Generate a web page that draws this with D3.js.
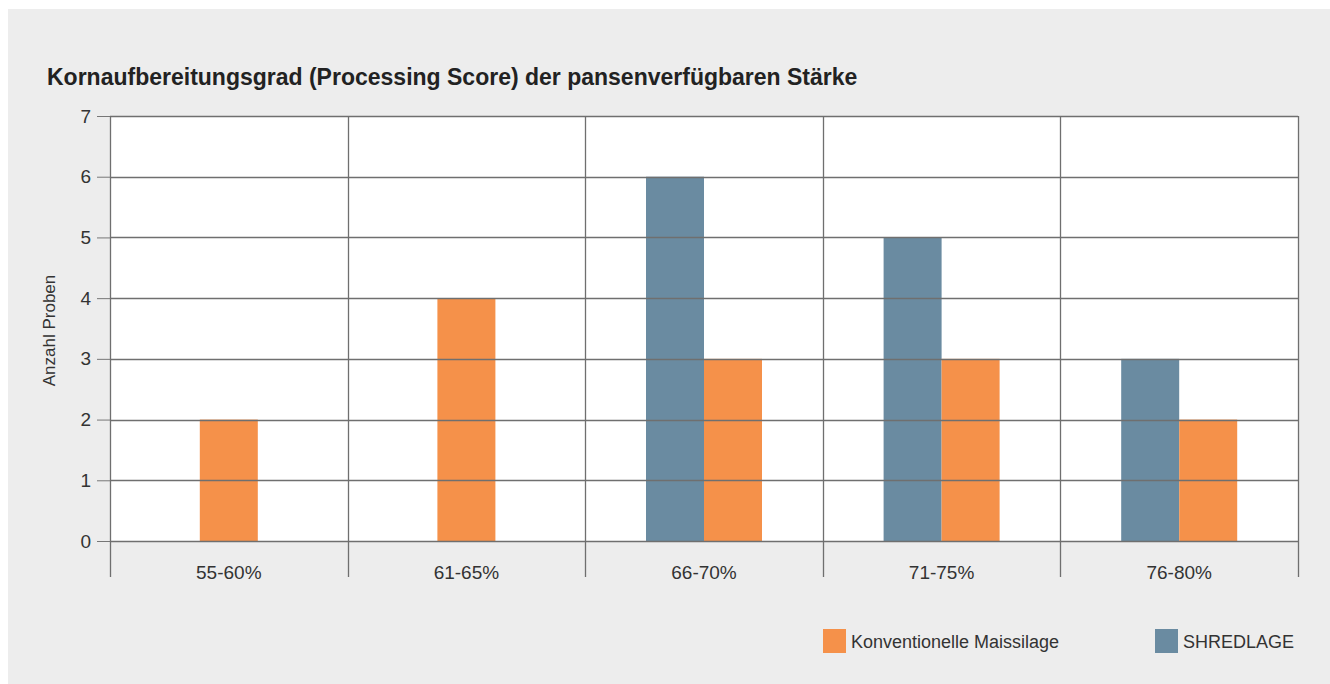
<!DOCTYPE html>
<html>
<head>
<meta charset="utf-8">
<script src="https://cdnjs.cloudflare.com/ajax/libs/d3/7.8.5/d3.min.js"></script>
<style>
	body { margin: 0; background: #fff; }
	svg { display: block; font-family: "Liberation Sans", Arial, sans-serif; }
</style>
</head>
<body>
<svg id="chart" width="1330" height="684"></svg>
<script>
// data
var categories = ['55-60%', '61-65%', '66-70%', '71-75%', '76-80%'];
var shredlage = [0, 0, 6, 5, 3];
var konventionell = [2, 4, 3, 3, 2];
var yTicks = [0, 1, 2, 3, 4, 5, 6, 7];
var seriesNames = ['Konventionelle Maissilage', 'SHREDLAGE'];
var seriesColors = ['#f5914a', '#6a8ba1'];

var svg = d3.select('#chart');
var margin = { left: 110, top: 116, right: 32, bottom: 143 };
var width = 1330 - margin.left - margin.right;
var height = 684 - margin.top - margin.bottom;
var barW = 58;

svg.append('rect')
	.attr('x', 8).attr('y', 9)
	.attr('width', 1322).attr('height', 675)
	.attr('fill', '#ededed');

svg.append('text')
	.attr('x', 47).attr('y', 85)
	.attr('font-size', 23)
	.attr('font-weight', 'bold')
	.attr('fill', '#222')
	.text('Kornaufbereitungsgrad (Processing Score) der pansenverfügbaren Stärke');

var g = svg.append('g')
	.attr('transform', 'translate(' + margin.left + ',' + margin.top + ')');

var x = d3.scaleBand().domain(categories).range([0, width]);
var y = d3.scaleLinear().domain([0, 7]).range([height, 0]);

g.append('rect')
	.attr('width', width).attr('height', height)
	.attr('fill', '#fff');

// bars: pair side by side, a single series sits centred
var rows = categories.map(function(c, i) {
	return { cat: c, k: konventionell[i], s: shredlage[i] };
});
rows.forEach(function(r) {
	var cx = x(r.cat) + x.bandwidth() / 2;
	var bars = [];
	if (r.s > 0 && r.k > 0) {
		bars.push({ v: r.s, x0: cx - barW, c: seriesColors[1] });
		bars.push({ v: r.k, x0: cx, c: seriesColors[0] });
	} else if (r.k > 0) {
		bars.push({ v: r.k, x0: cx - barW / 2, c: seriesColors[0] });
	} else if (r.s > 0) {
		bars.push({ v: r.s, x0: cx - barW / 2, c: seriesColors[1] });
	}
	g.selectAll(null)
		.data(bars)
		.enter().append('rect')
			.attr('x', function(d) { return d.x0; })
			.attr('y', function(d) { return y(d.v); })
			.attr('width', barW)
			.attr('height', function(d) { return y(0) - y(d.v); })
			.attr('fill', function(d) { return d.c; });
});

// y axis
var yAxis = g.append('g')
	.call(d3.axisLeft(y).tickValues(yTicks).tickFormat(d3.format('d')).tickSize(13).tickPadding(6));
yAxis.select('.domain').remove();
yAxis.selectAll('.tick line').attr('stroke', '#777');
yAxis.selectAll('.tick text')
	.style('font-size', '19px')
	.style('font-family', '"Liberation Sans", Arial, sans-serif')
	.attr('fill', '#333');

// horizontal grid, drawn over the bars
g.append('g')
	.selectAll('line')
	.data(yTicks)
	.enter().append('line')
		.attr('x1', 0).attr('x2', width)
		.attr('y1', function(d) { return Math.round(y(d)) + 0.5; })
		.attr('y2', function(d) { return Math.round(y(d)) + 0.5; })
		.attr('stroke', '#6f6f6f')
		.attr('stroke-width', 1.3);

// vertical separators reaching below the baseline
var bounds = categories.map(function(c) { return x(c); }).concat([width]);
g.append('g')
	.selectAll('line')
	.data(bounds)
	.enter().append('line')
		.attr('x1', function(d) { return Math.round(d) + 0.5; })
		.attr('x2', function(d) { return Math.round(d) + 0.5; })
		.attr('y1', 0).attr('y2', height + 36)
		.attr('stroke', '#6f6f6f')
		.attr('stroke-width', 1.3);

g.append('g')
	.selectAll('text')
	.data(categories)
	.enter().append('text')
		.attr('x', function(d) { return x(d) + x.bandwidth() / 2; })
		.attr('y', height + 38)
		.attr('text-anchor', 'middle')
		.attr('font-size', 19)
		.attr('fill', '#333')
		.text(function(d) { return d; });

svg.append('text')
	.attr('transform', 'translate(55,' + (margin.top + height / 2 + 2) + ') rotate(-90)')
	.attr('text-anchor', 'middle')
	.attr('font-size', 17)
	.attr('fill', '#333')
	.text('Anzahl Proben');

// legend
var legend = [
	{ name: seriesNames[0], color: seriesColors[0], x: 823 },
	{ name: seriesNames[1], color: seriesColors[1], x: 1155 }
];
var lg = svg.selectAll('.legend')
	.data(legend)
	.enter().append('g')
		.attr('class', 'legend')
		.attr('transform', function(d) { return 'translate(' + d.x + ',629)'; });
lg.append('rect')
	.attr('width', 23).attr('height', 24)
	.attr('fill', function(d) { return d.color; });
lg.append('text')
	.attr('x', 28).attr('y', 19)
	.attr('font-size', 18)
	.attr('fill', '#333')
	.text(function(d) { return d.name; });
</script>
</body>
</html>
